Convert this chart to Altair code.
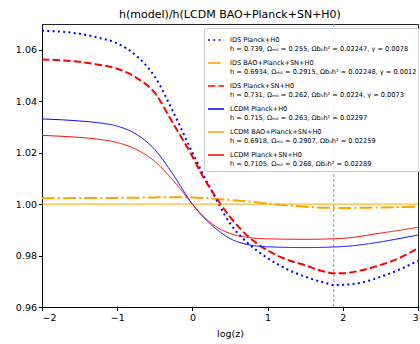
import altair as alt
import pandas as pd

labels = [
    "IDS Planck+H0|h = 0.739, Ωₘ₀ = 0.255, Ωb₀h² = 0.02247, γ = 0.0078",
    "IDS BAO+Planck+SN+H0|h = 0.6934, Ωₘ₀ = 0.2915, Ωb₀h² = 0.02248, γ = 0.0012",
    "IDS Planck+SN+H0|h = 0.731, Ωₘ₀ = 0.262, Ωb₀h² = 0.0224, γ = 0.0073",
    "LCDM Planck+H0|h = 0.715, Ωₘ₀ = 0.263, Ωb₀h² = 0.02297",
    "LCDM BAO+Planck+SN+H0|h = 0.6918, Ωₘ₀ = 0.2907, Ωb₀h² = 0.02259",
    "LCDM Planck+SN+H0|h = 0.7105, Ωₘ₀ = 0.268, Ωb₀h² = 0.02289",
]
colors = ["#0000ff", "#ffa500", "#ff0000", "#0000ff", "#ffa500", "#ff0000"]
dashes = [[2, 3.3], [12.8, 3.2, 2, 3.2], [7.4, 3.2], [1, 0], [1, 0], [1, 0]]
widths = [2, 2, 2, 1, 1, 1]

# series values
x_ids_planck = [-2, -1.5, -1.25, -1, -0.75, -0.5, -0.25, 0, 0.125, 0.25, 0.5, 0.75, 1, 1.25, 1.5, 1.75, 1.9, 2, 2.25, 2.5, 2.75, 3]
y_ids_planck = [1.0674, 1.0662, 1.0647, 1.0625, 1.0578, 1.0495, 1.0355, 1.020, 1.0125, 1.0055, 0.9925, 0.9845, 0.979, 0.9748, 0.9718, 0.9695, 0.9685, 0.9686, 0.9695, 0.9717, 0.9745, 0.978]

x_ids_bao = [-2, -1, -0.5, -0.25, 0, 0.25, 0.5, 0.75, 1, 1.25, 1.5, 1.75, 2, 2.5, 3]
y_ids_bao = [1.0023, 1.0024, 1.0026, 1.0027, 1.0026, 1.0022, 1.0016, 1.001, 1.0002, 0.9995, 0.999, 0.9986, 0.9985, 0.9987, 0.999]

x_ids_sn = [-2, -1.5, -1.25, -1, -0.75, -0.5, -0.25, 0, 0.125, 0.25, 0.5, 0.75, 1, 1.25, 1.5, 1.75, 1.9, 2, 2.25, 2.5, 2.75, 3]
y_ids_sn = [1.0562, 1.0553, 1.0542, 1.0526, 1.0492, 1.0432, 1.031, 1.0185, 1.0115, 1.0055, 0.995, 0.9872, 0.982, 0.9785, 0.9762, 0.9738, 0.9731, 0.9731, 0.9743, 0.9763, 0.979, 0.9829]

x_lcdm_planck = [-2, -1.5, -1.25, -1, -0.75, -0.5, -0.25, 0, 0.125, 0.25, 0.375, 0.5, 0.75, 1, 1.5, 2, 2.5, 2.75, 3]
y_lcdm_planck = [1.0331, 1.0323, 1.0316, 1.0303, 1.0272, 1.0212, 1.0112, 1.0, 0.9956, 0.992, 0.989, 0.9866, 0.9842, 0.9834, 0.9831, 0.9835, 0.9853, 0.9866, 0.988]

x_lcdm_bao = [-2, 3]
y_lcdm_bao = [1.0, 1.0]

x_lcdm_sn = [-2, -1.5, -1.25, -1, -0.75, -0.5, -0.25, 0, 0.125, 0.25, 0.375, 0.5, 0.75, 1, 1.5, 2, 2.5, 2.75, 3]
y_lcdm_sn = [1.0267, 1.0259, 1.0252, 1.0239, 1.0213, 1.0166, 1.009, 1.0, 0.9959, 0.9926, 0.9902, 0.9886, 0.987, 0.9865, 0.9863, 0.9867, 0.9887, 0.9898, 0.991]

vline_x = [1.88]

series = [
    (x_ids_planck, y_ids_planck),
    (x_ids_bao, y_ids_bao),
    (x_ids_sn, y_ids_sn),
    (x_lcdm_planck, y_lcdm_planck),
    (x_lcdm_bao, y_lcdm_bao),
    (x_lcdm_sn, y_lcdm_sn),
]
rows = []
for lab, sw, (xs, ys) in zip(labels, widths, series):
    for xv, yv in zip(xs, ys):
        rows.append({"x": xv, "y": yv, "label": lab, "sw": sw})
df = pd.DataFrame(rows)

xscale = alt.Scale(domain=[-2, 3], nice=False, zero=False)
yscale = alt.Scale(domain=[0.96, 1.07], nice=False, zero=False)

legend = alt.Legend(
    title=None, orient="none", legendX=162, legendY=4,
    labelExpr="split(datum.label, '|')",
    labelFontSize=6.6, labelFont="DejaVu Sans", labelLimit=320, labelColor="#000",
    symbolType="stroke", symbolSize=256, symbolStrokeWidth=1.6,
    fillColor="rgba(255,255,255,0.85)", strokeColor="#cccccc",
    padding=3, cornerRadius=2, rowPadding=1, labelOffset=5,
)

lines = alt.Chart(df).mark_line(interpolate="monotone", clip=True).encode(
    x=alt.X("x:Q", scale=xscale, title="log(z)",
            axis=alt.Axis(values=[-2, -1, 0, 1, 2, 3], format="d",
                          labelExpr="replace(datum.label, '-', '−')")),
    y=alt.Y("y:Q", scale=yscale, title=None,
            axis=alt.Axis(values=[0.96, 0.98, 1.0, 1.02, 1.04, 1.06], format=".2f")),
    color=alt.Color("label:N", scale=alt.Scale(domain=labels, range=colors), legend=legend),
    strokeDash=alt.StrokeDash("label:N", scale=alt.Scale(domain=labels, range=dashes), legend=legend),
    strokeWidth=alt.StrokeWidth("sw:Q", scale=None, legend=None),
)

vdf = pd.DataFrame({"x": vline_x})
vline = alt.Chart(vdf).mark_rule(color="#999999", strokeDash=[3, 2], strokeWidth=1).encode(
    x=alt.X("x:Q", scale=xscale)
)

chart = alt.layer(vline, lines).properties(
    width=376, height=283,
    title=alt.TitleParams("h(model)/h(LCDM BAO+Planck+SN+H0)", fontSize=11,
                          font="DejaVu Sans", fontWeight="normal", offset=4, color="#000"),
    autosize=alt.AutoSizeParams(type="none"),
    padding={"left": 42, "top": 24, "right": 2, "bottom": 37},
).configure_view(stroke="#222", strokeWidth=1).configure_axis(
    grid=False, labelFont="DejaVu Sans", titleFont="DejaVu Sans", labelFontSize=9.5,
    titleFontSize=9.5, titleFontWeight="normal", labelColor="#000", titleColor="#000",
    tickColor="#000", domainColor="#000", tickSize=3.5, labelPadding=2, titlePadding=6,
)

chart.save("out.html", embed_options={"renderer": "svg", "actions": False})
